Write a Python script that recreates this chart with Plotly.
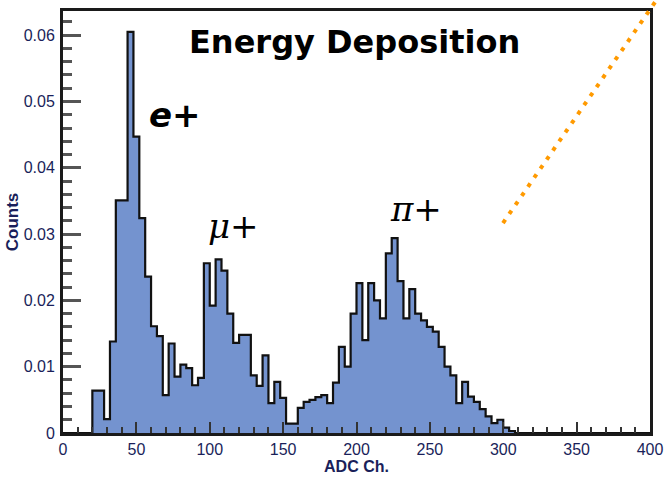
import plotly.graph_objects as go

# ---- data ----
BIN_WIDTH = 4  # ADC channels per bin
bin_lo = list(range(0, 400, BIN_WIDTH))  # lower edges of the 100 bins

counts = [
    0.0, 0.0, 0.0, 0.0, 0.0,
    0.0064, 0.0064, 0.0021, 0.0138, 0.0351,
    0.0351, 0.0605, 0.0447, 0.0324, 0.0236,
    0.0161, 0.0146, 0.0057, 0.0135, 0.0085,
    0.0103, 0.0098, 0.0072, 0.0083, 0.0256,
    0.0192, 0.0262, 0.0245, 0.0180, 0.0136,
    0.0148, 0.0148, 0.0087, 0.0071, 0.0117,
    0.0045, 0.0077, 0.0053, 0.0014, 0.0014,
    0.0038, 0.0047, 0.0050, 0.0054, 0.0057,
    0.0045, 0.0076, 0.0130, 0.0100, 0.0180,
    0.0226, 0.0140, 0.0226, 0.0200, 0.0173,
    0.0271, 0.0294, 0.0229, 0.0173, 0.0217,
    0.0180, 0.0170, 0.0160, 0.0153, 0.0130,
    0.0100, 0.0087, 0.0045, 0.0077, 0.0055,
    0.0047, 0.0036, 0.0025, 0.0015, 0.0020,
    0.0008, 0.0003, 0.0, 0.0, 0.0,
    0.0, 0.0, 0.0, 0.0, 0.0,
    0.0, 0.0, 0.0, 0.0, 0.0,
    0.0, 0.0, 0.0, 0.0, 0.0,
    0.0, 0.0, 0.0, 0.0, 0.0,
]

particle_labels = ["e+", "μ+", "π+"]
title_text = "Energy Deposition"
x_title = "ADC Ch."
y_title = "Counts"

# step outline: each bin's left edge plus the final right edge
step_x = bin_lo + [bin_lo[-1] + BIN_WIDTH]
step_y = counts + [counts[-1]]

FILL = "#7493cf"
LABEL_COLOR = "#1a1f5a"
TICKFONT = dict(family="Liberation Sans, Arial, sans-serif", size=16, color=LABEL_COLOR)

fig = go.Figure()
fig.add_trace(go.Scatter(
    x=step_x, y=step_y, mode="lines", line_shape="hv",
    line=dict(color="#111111", width=2.2),
    fill="tozeroy", fillcolor=FILL, hoverinfo="skip", showlegend=False,
))

fig.update_layout(
    width=666, height=478,
    margin=dict(l=63, r=16, t=11, b=45),
    paper_bgcolor="white", plot_bgcolor="white",
    showlegend=False,
)

fig.update_xaxes(
    range=[0, 400], dtick=50, tick0=0, automargin=False,
    showgrid=False, zeroline=False,
    showline=True, linecolor="#1a1a1a", linewidth=3, mirror=True,
    ticks="inside", ticklen=11, tickwidth=2, tickcolor="#333333",
    minor=dict(dtick=10, ticks="inside", ticklen=6, tickwidth=2, tickcolor="#333333"),
    tickfont=TICKFONT, ticklabelstandoff=0,
    title=dict(text="<b>%s</b>" % x_title,
               font=dict(family="Liberation Sans, Arial, sans-serif", size=16, color=LABEL_COLOR),
               standoff=4),
)
fig.update_yaxes(
    range=[0, 0.06365], dtick=0.01, tick0=0, automargin=False,
    showgrid=False, zeroline=False,
    showline=True, linecolor="#1a1a1a", linewidth=3, mirror=True,
    ticks="inside", ticklen=18, tickwidth=3, tickcolor="#555555",
    minor=dict(dtick=0.002, ticks="inside", ticklen=9, tickwidth=3, tickcolor="#555555"),
    tickfont=TICKFONT, ticklabelstandoff=2,
    title=dict(text="<b>%s</b>" % y_title,
               font=dict(family="Liberation Sans, Arial, sans-serif", size=17, color=LABEL_COLOR),
               standoff=1),
)

# chart title inside the frame
fig.add_annotation(
    text="<b>%s</b>" % title_text, xref="paper", yref="paper", x=0.496, y=0.927,
    showarrow=False, xanchor="center", yanchor="middle",
    font=dict(family="DejaVu Sans, sans-serif", size=32, color="black"),
)

# particle labels
label_pos = [(0.191, 0.754), (0.290, 0.49), (0.601, 0.53)]
label_fonts = ["DejaVu Sans", "DejaVu Serif", "DejaVu Serif"]
for txt, (lx, ly), fam in zip(particle_labels, label_pos, label_fonts):
    fig.add_annotation(
        text="<b><i>%s</i></b>" % txt if txt == "e+" else "<i>%s</i>" % txt,
        xref="paper", yref="paper", x=lx, y=ly,
        showarrow=False, xanchor="center", yanchor="middle",
        font=dict(family=fam, size=34, color="black"),
    )

# orange dotted pointer line
fig.add_shape(
    type="line", xref="paper", yref="paper",
    x0=0.7496, y0=0.4976, x1=1.017, y1=1.038,
    line=dict(color="#ff9a00", width=4, dash="4px,7px"),
)

fig.write_html(
    "out.html",
    config={"displayModeBar": False},
    post_script="document.body.style.margin='0';document.body.style.overflow='hidden';",
)
